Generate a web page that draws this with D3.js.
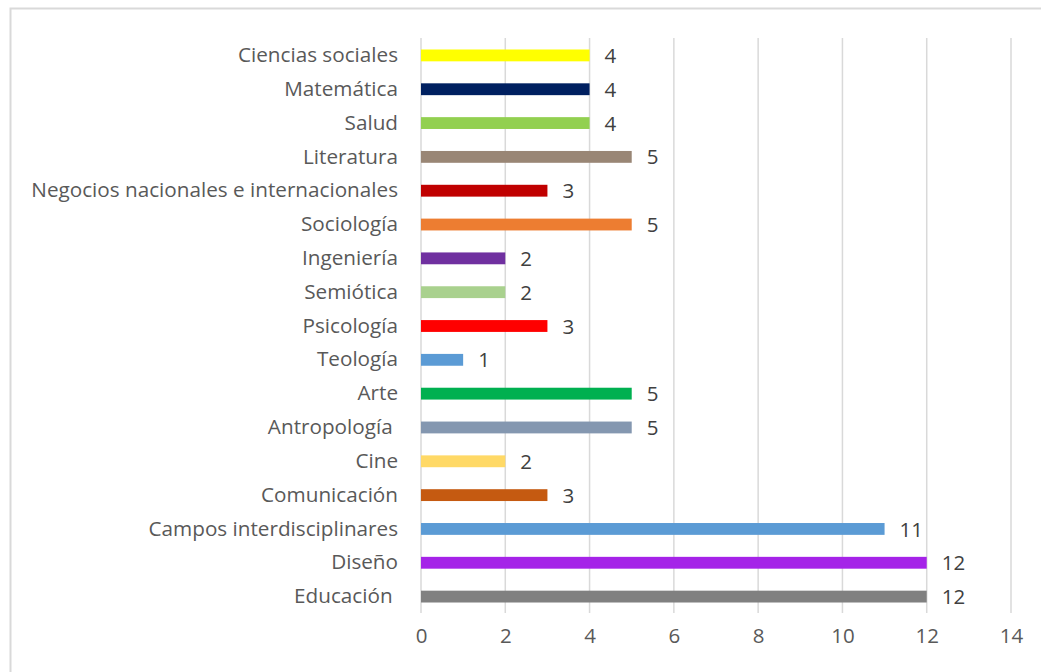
<!DOCTYPE html>
<html><head><meta charset="utf-8">
<script src="https://cdn.jsdelivr.net/npm/d3@7"></script>
<style>body{margin:0;background:#fff}svg{display:block}</style>
</head><body>
<svg id="c" width="1041" height="672"></svg>
<script>
const categories = ["Ciencias sociales","Matemática","Salud","Literatura","Negocios nacionales e internacionales","Sociología","Ingeniería","Semiótica","Psicología","Teología","Arte","Antropología ","Cine","Comunicación","Campos interdisciplinares","Diseño","Educación "];
const values = [4,4,4,5,3,5,2,2,3,1,5,5,2,3,11,12,12];
const colors = ["#FFFF00","#002060","#92D050","#998675","#C00000","#ED7D31","#7030A0","#A9D18E","#FF0000","#5B9BD5","#00B050","#8497B0","#FFD966","#C55A11","#5B9BD5","#A523E8","#808080"];
const xTicks = [0,2,4,6,8,10,12,14];

const svg = d3.select("#c");
const font = "'Open Sans', sans-serif";
svg.append("rect").attr("x",10.5).attr("y",8.5).attr("width",1040).attr("height",680)
  .attr("fill","none").attr("stroke","#d9d9d9").attr("stroke-width",2);

const x = d3.scaleLinear().domain([0,14]).range([421,1011]);
const y = d3.scaleBand().domain(categories).range([38.5,613.5]).paddingInner(0.65).paddingOuter(0.325);

svg.append("g").selectAll("line").data(xTicks).join("line")
  .attr("x1",d=>x(d)).attr("x2",d=>x(d)).attr("y1",38).attr("y2",613)
  .attr("stroke","#d9d9d9").attr("stroke-width",1.5);

const xAxis = svg.append("g").attr("transform","translate(0,613)")
  .call(d3.axisBottom(x).tickValues(xTicks).tickSize(0).tickPadding(15));
xAxis.select(".domain").remove();
xAxis.selectAll("text").attr("fill","#595959").attr("font-size",20.5).attr("font-family",font);

const yAxis = svg.append("g").attr("transform","translate(398,0)")
  .call(d3.axisLeft(y).tickSize(0).tickPadding(0));
yAxis.select(".domain").remove();
const yl = yAxis.selectAll("text").attr("fill","#595959").attr("font-size",18).attr("font-family",font)
  .style("white-space","pre").attr("xml:space","preserve");
const longest = yl.filter(d=>d.startsWith("Negocios")).node();
const fs = 18 * 367 / longest.getComputedTextLength();
yl.attr("font-size", fs);

svg.append("g").selectAll("rect").data(categories).join("rect")
  .attr("x",x(0)).attr("y",d=>y(d)).attr("height",y.bandwidth())
  .attr("width",(d,i)=>x(values[i])-x(0)).attr("fill",(d,i)=>colors[i]);

svg.append("g").selectAll("text").data(categories).join("text")
  .attr("x",(d,i)=>x(values[i])+15).attr("y",d=>y(d)+y.bandwidth()/2).attr("dy","0.37em")
  .attr("fill","#404040").attr("font-size",20.5).attr("font-family",font)
  .text((d,i)=>values[i]);
</script>
</body></html>
